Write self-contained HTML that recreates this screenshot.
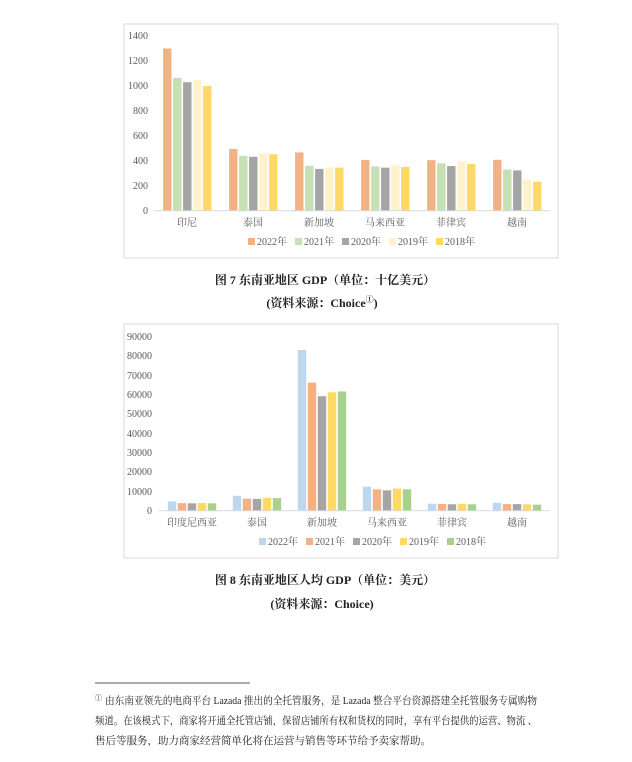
<!DOCTYPE html>
<html><head><meta charset="utf-8"><style>
html,body{margin:0;padding:0;background:#fff}
svg{display:block}
.ax{font-family:"Liberation Serif","Noto Serif CJK SC",serif;font-size:10px;fill:#595959}
.cap{font-family:"Liberation Serif","Noto Serif CJK SC",serif;font-size:12px;fill:#222;font-weight:bold}
.fn{font-family:"Liberation Serif","Noto Serif CJK SC",serif;font-size:10.5px;fill:#222}
</style></head><body>
<svg id="s" width="632" height="762" xmlns="http://www.w3.org/2000/svg">
<rect x="124" y="24" width="434" height="234" fill="#fff" stroke="#d9d9d9"/>
<rect x="124" y="324" width="434" height="234" fill="#fff" stroke="#d9d9d9"/>
<g class="ax" text-anchor="end">
<text x="148" y="214">0</text><text x="148" y="189">200</text><text x="148" y="164">400</text><text x="148" y="139">600</text><text x="148" y="114">800</text><text x="148" y="89">1000</text><text x="148" y="64">1200</text><text x="148" y="39">1400</text>
<text x="152" y="514">0</text><text x="152" y="495">10000</text><text x="152" y="475">20000</text><text x="152" y="456">30000</text><text x="152" y="437">40000</text><text x="152" y="417">50000</text><text x="152" y="398">60000</text><text x="152" y="379">70000</text><text x="152" y="359">80000</text><text x="152" y="340">90000</text>
</g>
<g class="ax" text-anchor="middle" font-size="11">
<text x="187" y="226">印尼</text><text x="253" y="226">泰国</text><text x="319" y="226">新加坡</text><text x="385" y="226">马来西亚</text><text x="451" y="226">菲律宾</text><text x="517" y="226">越南</text>
<text x="192" y="526">印度尼西亚</text><text x="257" y="526">泰国</text><text x="322" y="526">新加坡</text><text x="387" y="526">马来西亚</text><text x="452" y="526">菲律宾</text><text x="517" y="526">越南</text>
</g>
<g class="ax">
<rect x="248" y="238" width="7" height="7" fill="#F4B183"/><text x="257" y="245">2022年</text>
<rect x="295" y="238" width="7" height="7" fill="#C5E0B4"/><text x="304" y="245">2021年</text>
<rect x="342" y="238" width="7" height="7" fill="#A5A5A5"/><text x="351" y="245">2020年</text>
<rect x="389" y="238" width="7" height="7" fill="#FFF2CC"/><text x="398" y="245">2019年</text>
<rect x="436" y="238" width="7" height="7" fill="#FFD966"/><text x="445" y="245">2018年</text>
<rect x="259" y="538" width="7" height="7" fill="#BDD7EE"/><text x="268" y="545">2022年</text>
<rect x="306" y="538" width="7" height="7" fill="#F4B183"/><text x="315" y="545">2021年</text>
<rect x="353" y="538" width="7" height="7" fill="#A5A5A5"/><text x="362" y="545">2020年</text>
<rect x="400" y="538" width="7" height="7" fill="#FFD966"/><text x="409" y="545">2019年</text>
<rect x="447" y="538" width="7" height="7" fill="#A9D18E"/><text x="456" y="545">2018年</text>
</g>
<g id="bars"></g>
<line x1="154" y1="210.7" x2="550" y2="210.7" stroke="#d9d9d9"/>
<line x1="159" y1="510.7" x2="550" y2="510.7" stroke="#d9d9d9"/>
<text class="cap" x="325" y="284" text-anchor="middle">图 7  东南亚地区 GDP（单位：十亿美元）</text>
<text class="cap" x="322" y="307" text-anchor="middle">(资料来源：Choice<tspan font-size="8" dy="-5">①</tspan><tspan dy="5">)</tspan></text>
<text class="cap" x="325" y="584" text-anchor="middle">图 8  东南亚地区人均 GDP（单位：美元）</text>
<text class="cap" x="322" y="608" text-anchor="middle">(资料来源：Choice)</text>
<line x1="95" y1="683" x2="250" y2="683" stroke="#222" stroke-width="0.8"/>
<text class="fn" x="95" y="704"><tspan font-size="7" dy="-4">①</tspan><tspan x="105" dy="4" textLength="432" lengthAdjust="spacingAndGlyphs">由东南亚领先的电商平台 Lazada 推出的全托管服务，是 Lazada 整合平台资源搭建全托管服务专属购物</tspan></text>
<text class="fn" x="95" y="724" textLength="442" lengthAdjust="spacingAndGlyphs">频道。在该模式下，商家将开通全托管店铺，保留店铺所有权和货权的同时，享有平台提供的运营、物流 、</text>
<text class="fn" x="95" y="744">售后等服务，助力商家经营简单化将在运营与销售等环节给予卖家帮助。</text>
</svg>
<script>
var g=document.getElementById('bars'),ns='http://www.w3.org/2000/svg';
function draw(data,cols,c0,step,y0,scale){
 data.forEach(function(d,i){d.forEach(function(v,j){
  var r=document.createElementNS(ns,'rect');var h=v*scale;
  var cx=c0+step*i+(j-2)*10;
  r.setAttribute('x',cx-4.2);r.setAttribute('width',8.4);
  r.setAttribute('y',y0-h);r.setAttribute('height',h);r.setAttribute('fill',cols[j]);g.appendChild(r);});});
}
draw([[1300,1065,1030,1048,1000],[495,440,432,460,452],[467,360,335,348,345],[407,355,345,365,350],[405,380,358,395,375],[408,330,323,250,233]],
 ['#F4B183','#C5E0B4','#A5A5A5','#FFF2CC','#FFD966'],187.3,66,210.7,174.7/1400);
draw([[4800,3900,3800,4000,3800],[7700,6200,6100,6600,6500],[82800,66000,59000,61000,61400],[12400,11000,10500,11400,11000],[3600,3500,3300,3600,3300],[4100,3400,3400,3300,3100]],
 ['#BDD7EE','#F4B183','#A5A5A5','#FFD966','#A9D18E'],192,65,510.7,174.7/90000);
</script>
</body></html>
